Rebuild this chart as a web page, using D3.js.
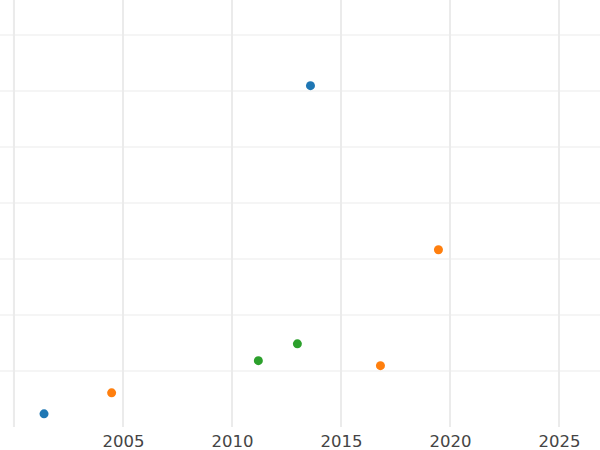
<!DOCTYPE html>
<html><head><meta charset="utf-8">
<script src="https://cdn.jsdelivr.net/npm/d3@7"></script>
<style>body{margin:0;background:#fff}svg{display:block}</style>
</head><body>
<svg id="c" width="600" height="450"></svg>
<script>
const xTicks = [2000, 2005, 2010, 2015, 2020, 2025];
const xTickLabels = ["", "2005", "2010", "2015", "2020", "2025"];
const yTicks = [10, 20, 30, 40, 50, 60, 70];
const seriesNames = ["A", "B", "C"];
const seriesColors = ["#1f77b4", "#ff7f0e", "#2ca02c"];
const seriesA_x = [2001.38, 2013.6];
const seriesA_y = [2.35, 60.95];
const seriesB_x = [2004.48, 2016.81, 2019.47];
const seriesB_y = [6.1, 10.95, 31.65];
const seriesC_x = [2011.21, 2013.0];
const seriesC_y = [11.85, 14.85];

const W = 600, H = 450, plotBottom = 427;
const svg = d3.select("#c");
const x = d3.scaleLinear().domain([1999.36, 2026.88]).range([0, W]);
const y = d3.scaleLinear().domain([0, 76.25]).range([plotBottom, 0]);

// horizontal grid
svg.append("g").selectAll("line").data(yTicks).join("line")
  .attr("x1", 0).attr("x2", W)
  .attr("y1", d => y(d)).attr("y2", d => y(d))
  .attr("stroke", "#ebebeb").attr("stroke-width", 1);

// vertical grid
svg.append("g").selectAll("line").data(xTicks).join("line")
  .attr("x1", d => x(d)).attr("x2", d => x(d))
  .attr("y1", 0).attr("y2", plotBottom)
  .attr("stroke", "#ebebeb").attr("stroke-width", 2);

// x axis labels
const xAxis = d3.axisBottom(x).tickValues(xTicks)
  .tickFormat((d, i) => xTickLabels[i]).tickSize(0).tickPadding(8);
const ax = svg.append("g").attr("transform", `translate(0,${plotBottom})`).call(xAxis);
ax.select(".domain").remove();
ax.selectAll("text").attr("fill", "#444").style("font-family", "DejaVu Sans, sans-serif").style("font-size", "16.5px");

const series = [
  {name: seriesNames[0], xs: seriesA_x, ys: seriesA_y, color: seriesColors[0]},
  {name: seriesNames[1], xs: seriesB_x, ys: seriesB_y, color: seriesColors[1]},
  {name: seriesNames[2], xs: seriesC_x, ys: seriesC_y, color: seriesColors[2]}
];
series.forEach(s => {
  const pts = s.xs.map((v, i) => ({x: v, y: s.ys[i]}));
  svg.append("g").selectAll("circle").data(pts).join("circle")
    .attr("cx", d => x(d.x)).attr("cy", d => y(d.y)).attr("r", 4.5)
    .attr("fill", s.color);
});
</script>
</body></html>
